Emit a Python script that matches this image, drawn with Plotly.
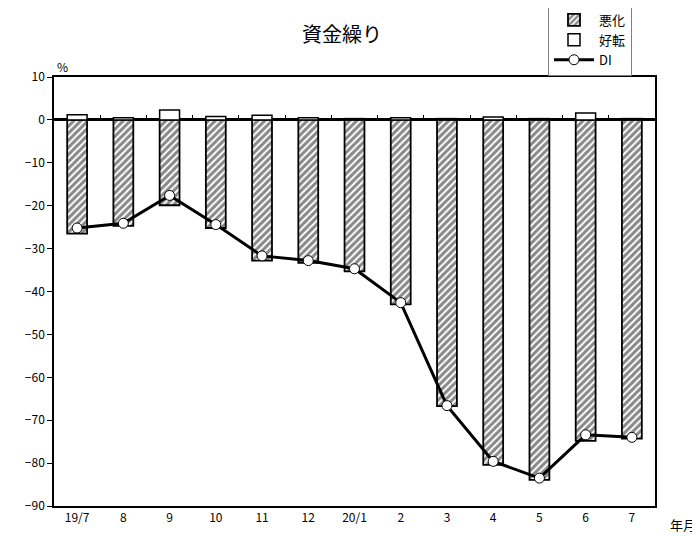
import plotly.graph_objects as go

categories = ["19/7", "8", "9", "10", "11", "12", "20/1", "2", "3", "4", "5", "6", "7"]
worse = [-26.5, -24.7, -19.9, -25.2, -32.8, -33.3, -35.3, -43.0, -66.7, -80.4, -83.9, -74.8, -74.3]
better = [1.2, 0.5, 2.3, 0.8, 1.1, 0.5, 0.3, 0.5, 0.3, 0.7, 0.3, 1.6, 0.3]
di = [-25.2, -24.1, -17.6, -24.4, -31.7, -32.8, -34.7, -42.6, -66.6, -79.6, -83.5, -73.4, -74.0]
y_ticks = [10, 0, -10, -20, -30, -40, -50, -60, -70, -80, -90]

FONT = "Noto Sans CJK JP"
OFF = 8  # page body margin
W, H = 700 - OFF, 536 - OFF
PL, PR, PT, PB = 54 - OFF, 655 - OFF, 77 - OFF, 506 - OFF
PW, PH = PR - PL, PB - PT

fig = go.Figure()
fig.add_trace(go.Bar(
    x=categories, y=worse, name="悪化", width=0.43,
    marker=dict(color="white", line=dict(color="black", width=1.8),
                pattern=dict(shape="/", fgcolor="#111111", bgcolor="white", size=5, solidity=0.6)),
))
fig.add_trace(go.Bar(
    x=categories, y=better, name="好転", width=0.43,
    marker=dict(color="white", line=dict(color="black", width=1.5)),
))
fig.add_trace(go.Scatter(
    x=categories, y=di, name="DI", mode="lines+markers", xaxis="x2",
    line=dict(color="black", width=3),
    marker=dict(symbol="circle", size=10, color="white", line=dict(color="black", width=1)),
))

fig.update_layout(
    width=W, height=H,
    margin=dict(l=PL, r=W - PR, t=PT, b=H - PB, autoexpand=False),
    paper_bgcolor="white", plot_bgcolor="white",
    barmode="relative",
    font=dict(family=FONT, size=12, color="black"),
    title=dict(text="資金繰り", x=(342 - OFF) / W, xanchor="center",
               y=1 - (35 - OFF) / H, yanchor="middle",
               font=dict(family=FONT, size=20, color="black")),
    showlegend=True,
    legend=dict(x=(548 - 54) / PW, y=(506 - 4) / PH, xanchor="left", yanchor="top",
                bordercolor="#808080", borderwidth=1, bgcolor="white",
                font=dict(family=FONT, size=13), traceorder="normal",
                tracegroupgap=0, itemwidth=40),
    xaxis=dict(type="category", categoryorder="array", categoryarray=categories,
               range=[-0.5, 12.5], showline=True, linecolor="black", linewidth=1.5,
               mirror=True, ticks="", showgrid=False, tickfont=dict(size=12)),
    xaxis2=dict(type="category", categoryorder="array", categoryarray=categories,
                range=[-0.5, 12.5], overlaying="x", anchor="free", position=0.9,
                side="bottom", showline=False, ticks="inside", ticklen=5,
                tickcolor="black", tickwidth=1, tickson="boundaries",
                showticklabels=False, showgrid=False),
    yaxis=dict(range=[-90, 10], tickvals=y_ticks, showline=True, linecolor="black",
               linewidth=1.5, mirror=True, ticks="outside", ticklen=5, tickcolor="black",
               showgrid=False, zeroline=True, zerolinecolor="black", zerolinewidth=3,
               tickfont=dict(size=12)),
    annotations=[
        dict(text="%", xref="paper", yref="paper", x=(62 - 54) / PW, y=(506 - 67) / PH,
             showarrow=False, xanchor="center", yanchor="middle", font=dict(size=12)),
        dict(text="年月", xref="paper", yref="paper", x=(683 - 54) / PW, y=(506 - 524) / PH,
             showarrow=False, xanchor="center", yanchor="middle", font=dict(size=13)),
    ],
)

fig.write_html("out.html")
